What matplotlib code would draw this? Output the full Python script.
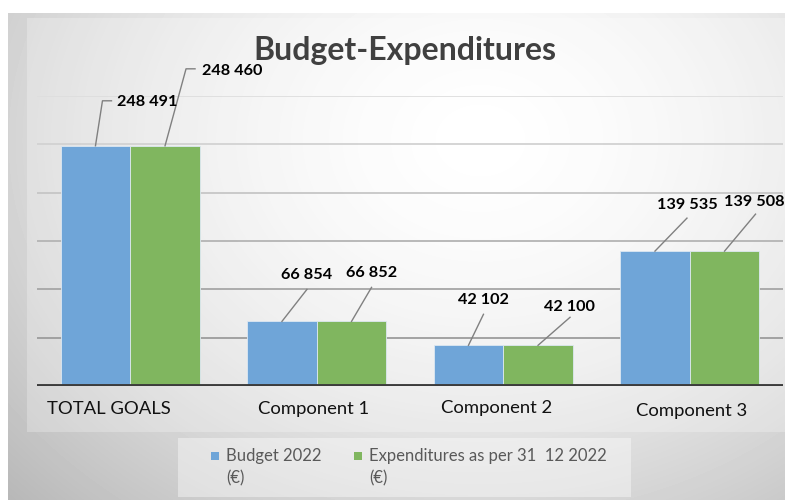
import numpy as np
import matplotlib
matplotlib.use("Agg")
import matplotlib.pyplot as plt
from matplotlib.patches import Rectangle
from matplotlib.lines import Line2D
from matplotlib.transforms import IdentityTransform

# ---- data ----
categories = ["TOTAL GOALS", "Component 1", "Component 2", "Component 3"]
budget = [248491, 66854, 42102, 139535]
expenditures = [248460, 66852, 42100, 139508]
series_names = ["Budget 2022\n(€)", "Expenditures as per 31  12 2022\n(€)"]
grid_values = [50000, 100000, 150000, 200000, 250000, 300000]
title = "Budget-Expenditures"

def fmt(v):
    return f"{v:,}".replace(",", " ")

# ---- styling ----
W, H = 785, 500
FONT = ["Lato", "DejaVu Sans"]
plt.rcParams["font.family"] = FONT
blue = "#6FA5D8"
green = "#80B65F"

fig = plt.figure(figsize=(W / 100, H / 100), dpi=100)
fig.patch.set_facecolor("white")

# background gradient (chart area)
bg = fig.add_axes([8 / W, 0, 1 - 8 / W, 487 / H])
bg.axis("off")
xx, yy = np.meshgrid(np.arange(8, 785), np.arange(13, 500))
d = np.hypot((xx - 480) / 1.0, (yy - 140) * 1.25)
v = 1 - 0.26 * np.clip(d / 620, 0, 1.3) ** 1.6
bg.imshow(v, cmap="gray", vmin=0, vmax=1, aspect="auto", extent=[0, 1, 0, 1],
          interpolation="bilinear", zorder=0)

# plot-area panel and legend panel overlays (kept behind the bars)
bg.add_patch(Rectangle((27 / W, 68 / H), (785 - 27) / W, (432 - 18) / H,
                       transform=fig.transFigure, facecolor="white",
                       alpha=0.25, edgecolor="none", zorder=1, clip_on=False))
bg.add_patch(Rectangle((178 / W, 3 / H), 453 / W, 59 / H,
                       transform=fig.transFigure, facecolor="white",
                       alpha=0.4, edgecolor="none", zorder=1, clip_on=False))

# main axes
ax = fig.add_axes([37 / W, 114 / H, 746 / W, 290 / H])
ax.patch.set_alpha(0)
x = np.arange(len(categories))
w = 0.373
ax.set_xlim(-0.5, len(categories) - 0.5)
ax.set_ylim(0, 300000)
for s in ax.spines.values():
    s.set_visible(False)
ax.set_yticks([])
ax.set_xticks([])

grid_colors = ["#9c9c9c", "#a6a6a6", "#b4b4b4", "#c6c6c6", "#d2d2d2", "#dedede"]
for gv, gc in zip(grid_values, grid_colors):
    ax.axhline(gv, color=gc, lw=1.3, zorder=0)

b1 = ax.bar(x - w / 2, budget, w, color=blue, edgecolor="#dde8f2", lw=0.6, zorder=2)
b2 = ax.bar(x + w / 2, expenditures, w, color=green, edgecolor="#dde8f2", lw=0.6, zorder=2)
ax.axhline(0, color="#3c3c3c", lw=2.8, zorder=3)

# category labels (slight nudges as in the reference)
label_nudge = [(-0.113, 0.0), (-0.016, 0.0), (-0.035, 0.004), (0.01, -0.006)]
for i, (cat, (ndx, ndy)) in enumerate(zip(categories, label_nudge)):
    ax.text(i + ndx, -0.079 + ndy, cat, transform=ax.get_xaxis_transform(),
            ha="center", va="center", fontsize=13.3, color="#111111")

# data labels with leader lines (offsets in pixels from bar top centre)
label_layout = [
    # budget
    [([(0, 0), (7, 45), (16, 45)], (52, 44)),
     ([(0, 0), (25, 32)], (25, 46)),
     ([(0, 0), (15, 31)], (15, 45)),
     ([(0, 0), (32, 33)], (32, 46))],
    # expenditures
    [([(0, 0), (21, 77), (30, 77)], (67, 75)),
     ([(0, 0), (20, 34)], (20, 48)),
     ([(0, 0), (32, 28)], (31, 38)),
     ([(0, 0), (31, 37)], (30, 49))],
]
for si, (bars, vals) in enumerate([(b1, budget), (b2, expenditures)]):
    for bi, (bar, val) in enumerate(zip(bars, vals)):
        xc = bar.get_x() + bar.get_width() / 2
        px, py = ax.transData.transform((xc, val))
        pts, (tdx, tdy) = label_layout[si][bi]
        xs = [px + p[0] for p in pts]
        ys = [py + p[1] for p in pts]
        fig.add_artist(Line2D(xs, ys, transform=IdentityTransform(),
                              color="#808080", lw=1.0))
        fig.text((px + tdx) / W, (py + tdy) / H, fmt(val), ha="center",
                 va="center", fontsize=11.7, fontweight="bold", color="black")

# title
fig.text(405 / W, (500 - 60) / H, title, ha="center", va="baseline",
         fontsize=23, fontweight="bold", color="#404040")

# legend
leg_x = [211, 354]
for lx, name, col in zip(leg_x, series_names, [blue, green]):
    fig.add_artist(Rectangle((lx / W, (500 - 459.5) / H), 8 / W, 8 / H,
                             transform=fig.transFigure, facecolor=col,
                             edgecolor="none"))
    lines = name.split("\n")
    for li, t in enumerate(lines):
        fig.text((lx + 15) / W, (500 - 456 - 22 * li) / H, t, ha="left",
                 va="center", fontsize=12, color="#595959")

fig.savefig("out.png", dpi=100)
